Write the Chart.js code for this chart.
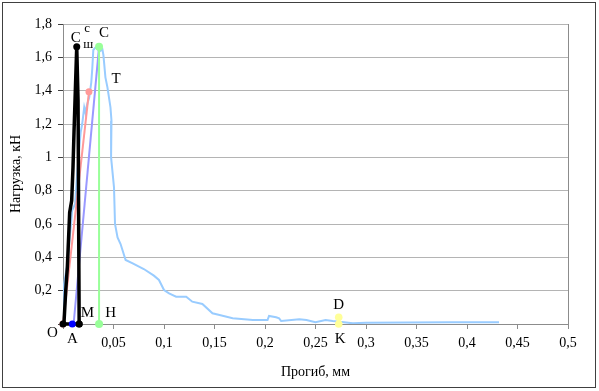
<!DOCTYPE html>
<html>
<head>
<meta charset="utf-8">
<script src="https://cdn.jsdelivr.net/npm/chart.js@4"></script>
<style>
html,body{margin:0;padding:0;background:#fff;}
#wrap{width:599px;height:391px;position:relative;}
</style>
</head>
<body>
<div id="wrap"><canvas id="c" width="599" height="391"></canvas></div>
<script>
// ---- data ----
const curveX = [0, 0.0005, 0.004, 0.008, 0.009, 0.012, 0.014, 0.016, 0.0175, 0.019, 0.021, 0.0225, 0.0232, 0.024, 0.026, 0.028, 0.029, 0.030, 0.032, 0.034, 0.0357, 0.039, 0.040, 0.0406, 0.042, 0.044, 0.047, 0.048, 0.0476, 0.0505, 0.0515, 0.054, 0.057, 0.062, 0.069, 0.08, 0.09, 0.095, 0.1, 0.105, 0.112, 0.122, 0.128, 0.138, 0.148, 0.155, 0.168, 0.188, 0.2025, 0.204, 0.211, 0.214, 0.216, 0.234, 0.241, 0.25, 0.26, 0.267, 0.287, 0.3, 0.383, 0.4317];
const curveY = [0, 0.22, 0.35, 0.6, 0.68, 0.72, 0.9, 1.05, 1.15, 1.2, 1.3, 1.26, 1.3, 1.32, 1.36, 1.45, 1.534, 1.644, 1.658, 1.66, 1.634, 1.648, 1.614, 1.574, 1.48, 1.42, 1.30, 1.22, 1.0, 0.82, 0.6, 0.52, 0.48, 0.384, 0.364, 0.33, 0.29, 0.264, 0.204, 0.184, 0.164, 0.164, 0.134, 0.12, 0.064, 0.054, 0.034, 0.024, 0.024, 0.048, 0.04, 0.034, 0.018, 0.028, 0.024, 0.01, 0.024, 0.018, 0.004, 0.008, 0.01, 0.01];

const blackX = [0.016, 0, 0.001, 0.0027, 0.0043, 0.0066, 0.0086, 0.0099, 0.0109, 0.0119, 0.0136, 0.0149, 0.016];
const blackY = [0, 0, 0.01, 0.2, 0.34, 0.67, 0.74, 0.94, 1.15, 1.34, 1.664, 1.34, 0];
const blackMarked = [true, true, false, false, false, false, false, false, false, false, true, false, true];

const pinkX = [0, 0.0257];
const pinkY = [0, 1.393];

const purpleX = [0.0105, 0.0357];
const purpleY = [0, 1.663];

const greenX = [0.0357, 0.0357];
const greenY = [1.663, 0];

const yellowX = [0.273, 0.273];
const yellowY = [0.04, 0];

const pointAX = [0.0092];
const pointAY = [0];

const xTickStep = 0.05, xMax = 0.5;
const yTickStep = 0.2, yMax = 1.8;

const labelText = ['O', 'A', 'M', 'H', 'C', 'T', 'D', 'K'];
const labelX = [-0.0106, 0.0092, 0.0241, 0.0473, 0.0406, 0.0525, 0.2729, 0.2745];
const labelY = [-0.056, -0.092, 0.064, 0.064, 1.746, 1.47, 0.114, -0.092];
// composite label C with sub "ш" and sup "c"
const specialLabel = {main: 'C', sub: 'ш', sup: 'c', x: 0.0126, y: 1.714};

const xTitle = 'Прогиб, мм';
const yTitle = 'Нагрузка, кН';

// ---- helpers ----
const zip = (xs, ys) => xs.map((x, i) => ({x: x, y: ys[i]}));
const SERIF = '"Liberation Serif", "Times New Roman", serif';
const fmt = v => String(v).replace('.', ',');

const labelsPlugin = {
  id: 'labels',
  beforeDraw(chart) {
    const ctx = chart.ctx;
    ctx.save();
    ctx.fillStyle = '#fff';
    ctx.fillRect(0, 0, chart.width, chart.height);
    ctx.restore();
  },
  afterDraw(chart) {
    const ctx = chart.ctx;
    const xs = chart.scales.x, ys = chart.scales.y;
    const a = chart.chartArea;
    ctx.save();
    // plot area right border
    ctx.strokeStyle = '#8c8c8c';
    ctx.lineWidth = 1;
    ctx.beginPath();
    ctx.moveTo(Math.round(a.right) + 0.5, a.top);
    ctx.lineTo(Math.round(a.right) + 0.5, a.bottom);
    ctx.stroke();
    // outer chart border
    ctx.strokeStyle = '#404040';
    ctx.strokeRect(2.5, 2.5, 593, 385);
    // point labels
    ctx.fillStyle = '#000';
    ctx.font = '15px ' + SERIF;
    ctx.textAlign = 'center';
    ctx.textBaseline = 'middle';
    labelText.forEach((t, i) => {
      ctx.fillText(t, xs.getPixelForValue(labelX[i]), ys.getPixelForValue(labelY[i]));
    });
    const px = xs.getPixelForValue(specialLabel.x), py = ys.getPixelForValue(specialLabel.y);
    ctx.fillText(specialLabel.main, px, py);
    ctx.font = '13px ' + SERIF;
    ctx.fillText(specialLabel.sup, px + 11.5, py - 10);
    ctx.fillText(specialLabel.sub, px + 12.5, py + 6);
    ctx.restore();
  }
};

const lineDs = (xs, ys, color, width, radius, extra) => Object.assign({
  data: zip(xs, ys),
  showLine: true,
  borderColor: color,
  backgroundColor: color,
  borderWidth: width,
  pointRadius: radius,
  pointBorderWidth: 0,
  pointHoverRadius: radius,
  tension: 0,
  clip: false
}, extra || {});

new Chart(document.getElementById('c'), {
  type: 'scatter',
  data: {
    datasets: [
      lineDs(yellowX, yellowY, '#ffff99', 2, 3.8, {order: 1}),
      lineDs(greenX, greenY, '#99ff99', 2, 4, {order: 2}),
      lineDs(pointAX, pointAY, '#0000ff', 2, 3.5, {order: 0}),
      lineDs(blackX, blackY, '#000000', 3.5, 0, {order: 3, pointRadius: blackMarked.map(m => m ? 3.5 : 0)}),
      lineDs(purpleX, purpleY, '#9999ff', 2, 0, {order: 4}),
      lineDs(pinkX, pinkY, '#ff9999', 2, 3.5, {order: 5}),
      lineDs(curveX, curveY, '#99ccff', 2, 0, {order: 10, clip: undefined})
    ]
  },
  options: {
    responsive: false,
    animation: false,
    events: [],
    layout: {padding: {top: 24, right: 31, bottom: 0, left: 0}},
    plugins: {legend: {display: false}, tooltip: {enabled: false}},
    scales: {
      x: {
        type: 'linear', min: 0, max: xMax,
        afterFit(s) { s.height = 67; },
        grid: {drawOnChartArea: false, drawTicks: true, tickLength: 5, tickColor: '#8c8c8c'},
        border: {display: true, color: '#8c8c8c', width: 1},
        ticks: {
          stepSize: xTickStep, padding: 6, color: '#000', maxRotation: 0, autoSkip: false,
          font: {family: SERIF, size: 14},
          callback: v => (Math.abs(v) < 1e-9 ? '' : fmt(Math.round(v * 100) / 100))
        },
        title: {display: true, text: xTitle, color: '#000', font: {family: SERIF, size: 14}, padding: {top: 0, bottom: 10}}
      },
      y: {
        type: 'linear', min: 0, max: yMax,
        afterFit(s) { s.width = 63; },
        grid: {color: '#b4b4b4', lineWidth: 1, drawTicks: true, tickLength: 5, tickColor: '#404040'},
        border: {display: true, color: '#8c8c8c', width: 1},
        ticks: {
          stepSize: yTickStep, padding: 6, color: '#000',
          font: {family: SERIF, size: 14},
          callback: v => (Math.abs(v) < 1e-9 ? '' : fmt(Math.round(v * 10) / 10))
        },
        title: {display: true, text: yTitle, color: '#000', font: {family: SERIF, size: 14}, padding: {top: 8, bottom: 0}}
      }
    }
  },
  plugins: [labelsPlugin]
});
</script>
</body>
</html>
